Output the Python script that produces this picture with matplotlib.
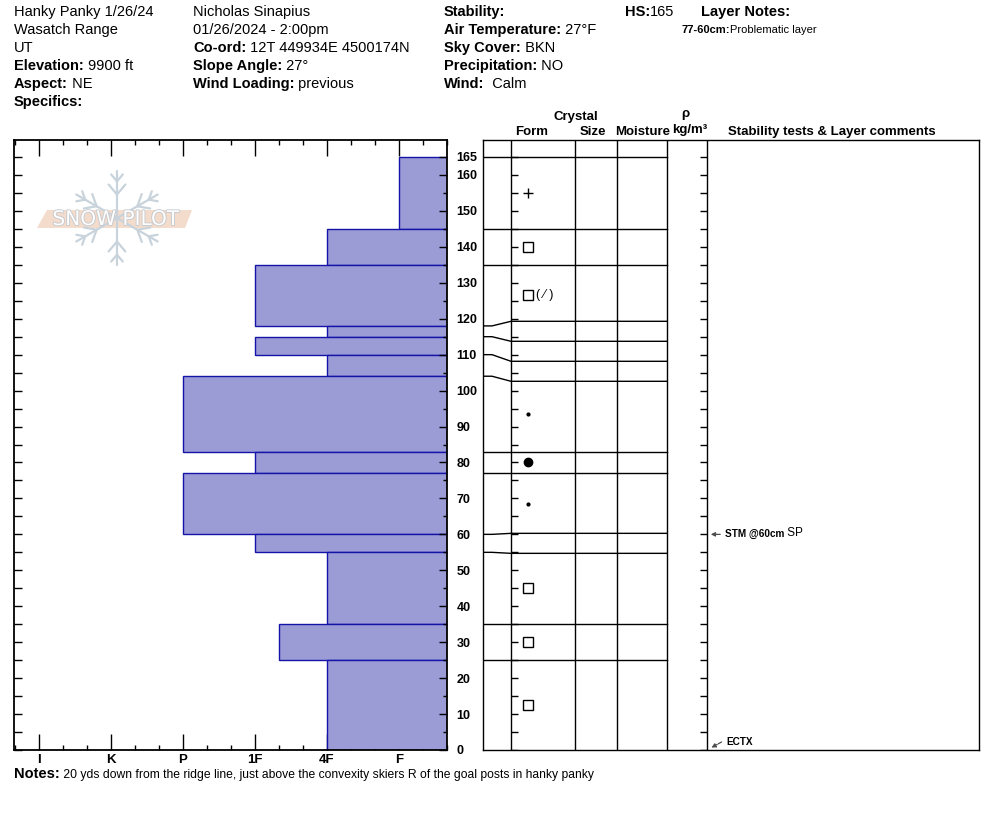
import numpy as np
import matplotlib.pyplot as plt
from matplotlib.patches import Polygon
import matplotlib.patheffects as pe

plt.rcParams['font.family'] = ['Liberation Sans', 'DejaVu Sans']

W, H = 994, 840

# snow layers, top down (cm)
layer_top = [165, 145, 135, 118, 115, 110, 104, 83, 77, 60, 55, 35, 25]
layer_bottom = [145, 135, 118, 115, 110, 104, 83, 77, 60, 55, 35, 25, 0]
layer_hardness = ['F', '4F', '1F', '4F', '1F', '4F', 'P', '1F', 'P', '1F', '4F', '1F-', '4F']
layer_form = ['+', 'sq', 'sq/', '', '', '', 'dot', 'bigdot', 'dot', '', 'sq', 'sq', 'sq']

hardness_names = ['F', '4F', '1F', 'P', 'K', 'I']
hs = 165

test_names = ['STM @60cm', 'ECTX']
test_extra = [' SP', '']
test_depth = [60, 0]

notes = "20 yds down from the ridge line, just above the convexity skiers R of the goal posts in hanky panky"

px_per_cm = 3.594
ymax = 610 / px_per_cm


def hard_value(code):
    v = hardness_names.index(code.rstrip('+-')) + 1
    if code.endswith('-'):
        v -= 1 / 3
    if code.endswith('+'):
        v += 1 / 3
    return v


def spread(depths, gap):
    # push layer lines apart so the labels column stays readable
    shown = list(depths)
    moved = [False] * len(shown)
    for i in range(len(shown) - 1):
        d = shown[i] - shown[i + 1]
        if d < gap:
            if moved[i]:
                shown[i + 1] -= gap - d
            else:
                shown[i] += (gap - d) / 2
                shown[i + 1] -= (gap - d) / 2
                moved[i] = True
            moved[i + 1] = True
    return shown


def px_axes(x0, y0, x1, y1, **kw):
    return fig.add_axes([x0 / W, 1 - y1 / H, (x1 - x0) / W, (y1 - y0) / H], **kw)


fig = plt.figure(figsize=(W / 100, H / 100), dpi=100)

# ---------------- hardness profile ----------------
ax_h = px_axes(14, 140, 447, 750)
right_edge = 1 - 48 / 72
ax_h.set_xlim(6 + 25 / 72, right_edge)
ax_h.set_ylim(0, ymax)
hv = [hard_value(c) for c in layer_hardness]
heights = [t - b for t, b in zip(layer_top, layer_bottom)]
ax_h.barh(layer_bottom, [v - right_edge for v in hv], left=right_edge, height=heights,
          align='edge', color='#9b9bd6', edgecolor='#1414a8', linewidth=1, zorder=2)

ax_h.set_xticks(range(1, 7))
ax_h.set_xticklabels(hardness_names, fontweight='bold', fontsize=9.5)
ax_h.set_xticks(np.arange(1 / 3, 6.4, 1 / 3), minor=True)
ax_h.tick_params(axis='x', which='major', direction='in', length=11.5, width=1,
                 top=True, bottom=True, pad=3)
ax_h.tick_params(axis='x', which='minor', direction='in', length=3.6, width=1,
                 top=True, bottom=True)
ax_h.set_yticks(np.arange(0, hs + 1, 5))
ax_h.set_yticklabels([])
ax_h.tick_params(axis='y', direction='in', length=5.5, width=1)
for s in ax_h.spines.values():
    s.set_linewidth(1.3)
    s.set_zorder(3)

ax_r = ax_h.twinx()
ax_r.set_ylim(0, ymax)
ax_r.set_yticks(list(range(0, 161, 10)) + [hs])
ax_r.set_yticklabels([str(v) for v in range(0, 161, 10)] + [str(hs)], fontweight='bold', fontsize=9)
ax_r.set_yticks(np.arange(5, 161, 10), minor=True)
ax_r.tick_params(axis='y', which='major', direction='in', length=5.5, width=1, pad=7)
ax_r.tick_params(axis='y', which='minor', direction='in', length=3, width=1)
for s in ax_r.spines.values():
    s.set_visible(False)

# ---------------- layer table + stability ----------------
ax_m = px_axes(483, 140, 979, 750)
ax_m.set_xlim(0, 496)
ax_m.set_ylim(0, ymax)
ax_m.set_xticks([])
ax_m.set_yticks([])
for s in ax_m.spines.values():
    s.set_linewidth(1)
for cx in [28, 92, 134, 184, 224]:
    ax_m.axvline(cx, color='k', lw=1)

shown = spread(layer_top, 20 / px_per_cm)
for b, d in zip(layer_top, shown):
    ax_m.plot([0, 9, 28, 184], [b, b, d, d], color='k', lw=1)

tick_depths = np.arange(0, hs + 1, 5)
ax_m.hlines(tick_depths, 28, 35, color='k', lw=1)
ax_m.hlines(tick_depths, 217, 224, color='k', lw=1)

for t, b, f in zip(layer_top, layer_bottom, layer_form):
    mid = (t + b) / 2
    if f == '+':
        ax_m.plot(45, mid, marker='+', ms=7, mew=1, color='k')
    elif f.startswith('sq'):
        ax_m.plot(45, mid, marker='s', ms=6.5, mfc='white', mec='k', mew=1)
        if f.endswith('/'):
            ax_m.text(53, mid, '( \u2215 )', fontsize=9, va='center', ha='left')
    elif f == 'dot':
        ax_m.plot(45, mid, marker='o', ms=2, color='k')
    elif f == 'bigdot':
        ax_m.plot(45, mid, marker='o', ms=6, color='k')

for name, extra, dep in zip(test_names, test_extra, test_depth):
    if dep > 2:
        ax_m.annotate('', xy=(225, dep), xytext=(240, dep),
                      arrowprops=dict(arrowstyle='-|>', color='0.3', lw=0.9, mutation_scale=6))
        t = ax_m.text(242, dep, name, fontsize=7.2, fontweight='bold', va='center')
    else:
        ax_m.annotate('', xy=(226, dep + 0.3), xytext=(241, dep + 2.6),
                      arrowprops=dict(arrowstyle='-|>', color='0.3', lw=0.9, mutation_scale=6,
                                      linestyle=(0, (3, 1))))
        t = ax_m.text(243, dep + 2.1, name, fontsize=7.2, fontweight='bold', va='center')
    if extra:
        ax_m.annotate(extra, xy=(1, 0), xycoords=t, va='bottom', fontsize=8.5)

# ---------------- header text, logo ----------------
ax_bg = fig.add_axes([0, 0, 1, 1])
ax_bg.set_xlim(0, W)
ax_bg.set_ylim(H, 0)
ax_bg.axis('off')


def field(x, y, bold, value='', size=10.5, vsize=None):
    t = ax_bg.text(x, y, bold, fontsize=size, fontweight='bold', va='center')
    if value:
        ax_bg.annotate(value, xy=(1, 0), xycoords=t, va='bottom', fontsize=vsize or size)


def plain(x, y, s, size=10.5):
    ax_bg.text(x, y, s, fontsize=size, va='center')


rows = [12 + 18 * i for i in range(6)]
plain(14, rows[0], 'Hanky Panky 1/26/24')
plain(14, rows[1], 'Wasatch Range')
plain(14, rows[2], 'UT')
field(14, rows[3], 'Elevation:', ' 9900 ft')
field(14, rows[4], 'Aspect:', ' NE')
field(14, rows[5], 'Specifics:')

plain(193, rows[0], 'Nicholas Sinapius')
plain(193, rows[1], '01/26/2024 - 2:00pm')
field(193, rows[2], 'Co-ord:', ' 12T 449934E 4500174N')
field(193, rows[3], 'Slope Angle:', ' 27°')
field(193, rows[4], 'Wind Loading:', ' previous')

field(444, rows[0], 'Stability:')
field(444, rows[1], 'Air Temperature:', ' 27°F')
field(444, rows[2], 'Sky Cover:', ' BKN')
field(444, rows[3], 'Precipitation:', ' NO')
field(444, rows[4], 'Wind:', '  Calm')

field(625, rows[0], 'HS:', str(hs))
field(701, rows[0], 'Layer Notes:')
field(682, rows[1], '77-60cm:', 'Problematic layer', size=8)

hdr = dict(fontsize=9.5, fontweight='bold', ha='center', va='center')
ax_bg.text(576, 117, 'Crystal', **hdr)
ax_bg.text(532, 132, 'Form', **hdr)
ax_bg.text(593, 132, 'Size', **hdr)
ax_bg.text(643, 132, 'Moisture', **hdr)
ax_bg.text(685, 114, '\u03c1', **hdr)
ax_bg.text(690, 130, 'kg/m\u00b3', **hdr)
ax_bg.text(832, 132, 'Stability tests & Layer comments', **hdr)

field(14, 774, 'Notes:', ' ' + notes, size=10.5, vsize=8.7)

# snowpilot watermark
cx, cy, L = 117, 218, 47
flake = '#c8d3dc'
for ang in [30, 90, 150, 210, 270, 330]:
    a = np.radians(ang)
    ux, uy = np.cos(a), -np.sin(a)
    ax_bg.plot([cx, cx + L * ux], [cy, cy + L * uy], color=flake, lw=1.6, solid_capstyle='round')
    for frac, blen in [(0.5, 13), (0.78, 9)]:
        px, py = cx + frac * L * ux, cy + frac * L * uy
        for side in (-1, 1):
            b = a + side * np.radians(40)
            ax_bg.plot([px, px + blen * np.cos(b)], [py, py - blen * np.sin(b)],
                       color=flake, lw=1.6, solid_capstyle='round')
ax_bg.add_patch(Polygon([(37, 228), (47, 210), (192, 210), (185, 228)], closed=True,
                        facecolor='#f3dccb', edgecolor='none'))
ax_bg.text(116, 219.5, 'SNOW PILOT', fontsize=14.5, color='white', ha='center', va='center',
           family='DejaVu Sans',
           path_effects=[pe.withStroke(linewidth=1.3, foreground='#c6cacf')])

fig.savefig('out.png', dpi=100)
